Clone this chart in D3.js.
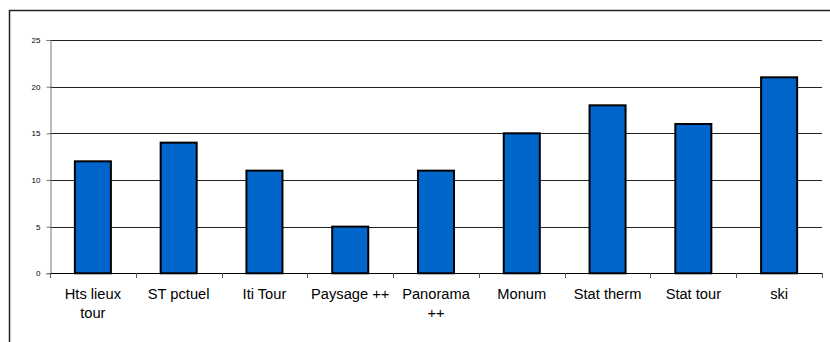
<!DOCTYPE html>
<html><head><meta charset="utf-8">
<script src="https://cdn.jsdelivr.net/npm/d3@7"></script>
<style>html,body{margin:0;padding:0;background:#fff;}svg{display:block;}</style>
</head><body>
<script>
const categories = ["Hts lieux tour","ST pctuel","Iti Tour","Paysage ++","Panorama ++","Monum","Stat therm","Stat tour","ski"];
const values = [12,14,11,5,11,15,18,16,21];
const yTicks = [0,5,10,15,20,25];

(function(){
const W = 830, H = 342;
const svg = d3.select("body").append("svg").attr("width",W).attr("height",H);
svg.append("rect").attr("width",W).attr("height",H).attr("fill","#fff");
// outer chart frame (extends beyond visible area on right/bottom)
svg.append("rect").attr("x",9.5).attr("y",10.5).attr("width",W+20).attr("height",H+20)
  .attr("fill","none").attr("stroke","#222").attr("stroke-width",1.5);

const mL=50, mR=822, mT=40, mB=273.3;
const x = d3.scaleBand().domain(categories).range([mL,mR]).paddingInner(0.58).paddingOuter(0.29);
const y = d3.scaleLinear().domain([0,25]).range([mB,mT]);

// gridlines
svg.append("g").selectAll("line").data(yTicks.filter(d=>d>0)).join("line")
  .attr("x1",mL).attr("x2",mR).attr("y1",d=>Math.round(y(d))+0.5).attr("y2",d=>Math.round(y(d))+0.5)
  .attr("stroke","#222").attr("stroke-width",1);

// y axis
const yAxis = svg.append("g").attr("transform",`translate(${mL+0.5},0)`)
  .call(d3.axisLeft(y).tickValues(yTicks).tickSize(4).tickPadding(6));
yAxis.select(".domain").attr("stroke","#777");
yAxis.selectAll(".tick line").attr("stroke","#777");
yAxis.selectAll(".tick text").attr("font-family","Liberation Sans, Arial, sans-serif").attr("font-size","8px").attr("fill","#000");

// bars
svg.append("g").selectAll("rect").data(categories).join("rect")
  .attr("x",d=>x(d)).attr("width",x.bandwidth())
  .attr("y",(d,i)=>y(values[i])).attr("height",(d,i)=>y(0)-y(values[i]))
  .attr("fill","#0066CC").attr("stroke","#000").attr("stroke-width",2);

// x axis line + ticks at boundaries
const step = x.step();
const bounds = d3.range(categories.length+1).map(i=>mL+i*step);
svg.append("line").attr("x1",mL).attr("x2",mR).attr("y1",Math.round(mB)+0.5).attr("y2",Math.round(mB)+0.5)
  .attr("stroke","#000").attr("stroke-width",1);
svg.append("g").selectAll("line").data(bounds).join("line")
  .attr("x1",d=>Math.round(d)+0.5).attr("x2",d=>Math.round(d)+0.5)
  .attr("y1",Math.round(mB)).attr("y2",Math.round(mB)+5)
  .attr("stroke","#555");

// x labels with wrapping
const labG = svg.append("g").attr("font-family","Liberation Sans, Arial, sans-serif").attr("font-size","14.67px").attr("fill","#000");
categories.forEach((c)=>{
  const cx = x(c)+x.bandwidth()/2;
  const t = labG.append("text").attr("x",cx).attr("y",299).attr("text-anchor","middle");
  const words = c.split(" ");
  let line = [], lineNo = 0;
  let ts = t.append("tspan").attr("x",cx).attr("y",299);
  words.forEach(w=>{
    line.push(w);
    ts.text(line.join(" "));
    if (ts.node().getComputedTextLength() > 80 && line.length>1){
      line.pop(); ts.text(line.join(" "));
      line=[w]; lineNo++;
      ts = t.append("tspan").attr("x",cx).attr("y",299+lineNo*19).text(w);
    }
  });
});
})();
</script>
</body></html>
